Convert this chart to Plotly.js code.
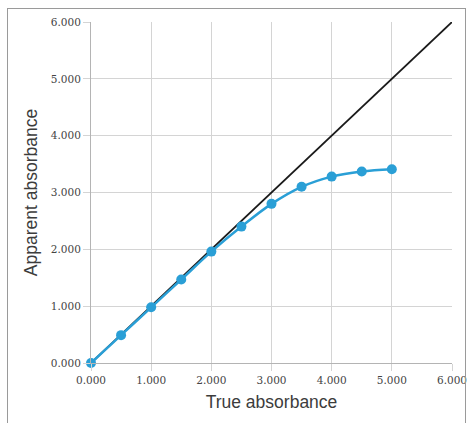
<!DOCTYPE html>
<html>
<head>
<meta charset="utf-8">
<script src="https://cdn.plot.ly/plotly-3.0.1.min.js"></script>
<style>
  html, body { margin: 0; padding: 0; background: #fff; }
  #wrap { position: relative; width: 471px; height: 423px; }
  #chart { width: 471px; height: 423px; }
  #frame { position: absolute; left: 7px; top: 8px; width: 457px; height: 420px;
           border: 1px solid #9a9a9a; pointer-events: none; }
</style>
</head>
<body>
<div id="wrap">
  <div id="chart"></div>
  <div id="frame"></div>
</div>
<script>
// Data
const trueAbs = [0, 0.5, 1.0, 1.5, 2.0, 2.5, 3.0, 3.5, 4.0, 4.5, 5.0];
const apparentAbs = [0, 0.49, 0.98, 1.47, 1.96, 2.40, 2.80, 3.10, 3.28, 3.37, 3.41];
const idealX = [0, 6];
const idealY = [0, 6];
const tickVals = [0, 1, 2, 3, 4, 5, 6];
const tickText = ["0.000", "1.000", "2.000", "3.000", "4.000", "5.000", "6.000"];

const traces = [
  {
    x: idealX, y: idealY, mode: 'lines', type: 'scatter',
    line: { color: '#1a1a1a', width: 1.8 }, hoverinfo: 'skip', cliponaxis: false
  },
  {
    x: trueAbs, y: apparentAbs, mode: 'lines+markers', type: 'scatter',
    line: { color: '#2a9fd6', width: 2.5, shape: 'spline' },
    marker: { color: '#2a9fd6', size: 10 },
    cliponaxis: false
  }
];

const axisCommon = {
  range: [0, 6],
  tickvals: tickVals,
  ticktext: tickText,
  showgrid: true,
  gridcolor: '#d4d4d4',
  gridwidth: 1,
  zeroline: false,
  showline: true,
  linecolor: '#b4b4b4',
  linewidth: 1,
  ticks: 'outside',
  ticklen: 7,
  tickcolor: '#d4d4d4',
  tickfont: { family: 'DejaVu Serif, serif', size: 10.5, color: '#444' },
  fixedrange: true
};

const titleFont = { family: 'Liberation Sans, Arial, sans-serif', size: 17.5, color: '#3c3c3c' };

const layout = {
  width: 471, height: 423,
  margin: { l: 91, r: 19, t: 22, b: 60 },
  paper_bgcolor: '#fff',
  plot_bgcolor: '#fff',
  showlegend: false,
  xaxis: Object.assign({}, axisCommon, {
    title: { text: 'True absorbance', font: titleFont, standoff: 11 }
  }),
  yaxis: Object.assign({}, axisCommon, {
    title: { text: 'Apparent absorbance', font: titleFont, standoff: 8 }
  })
};

Plotly.newPlot('chart', traces, layout, { displayModeBar: false, staticPlot: true });
</script>
</body>
</html>
